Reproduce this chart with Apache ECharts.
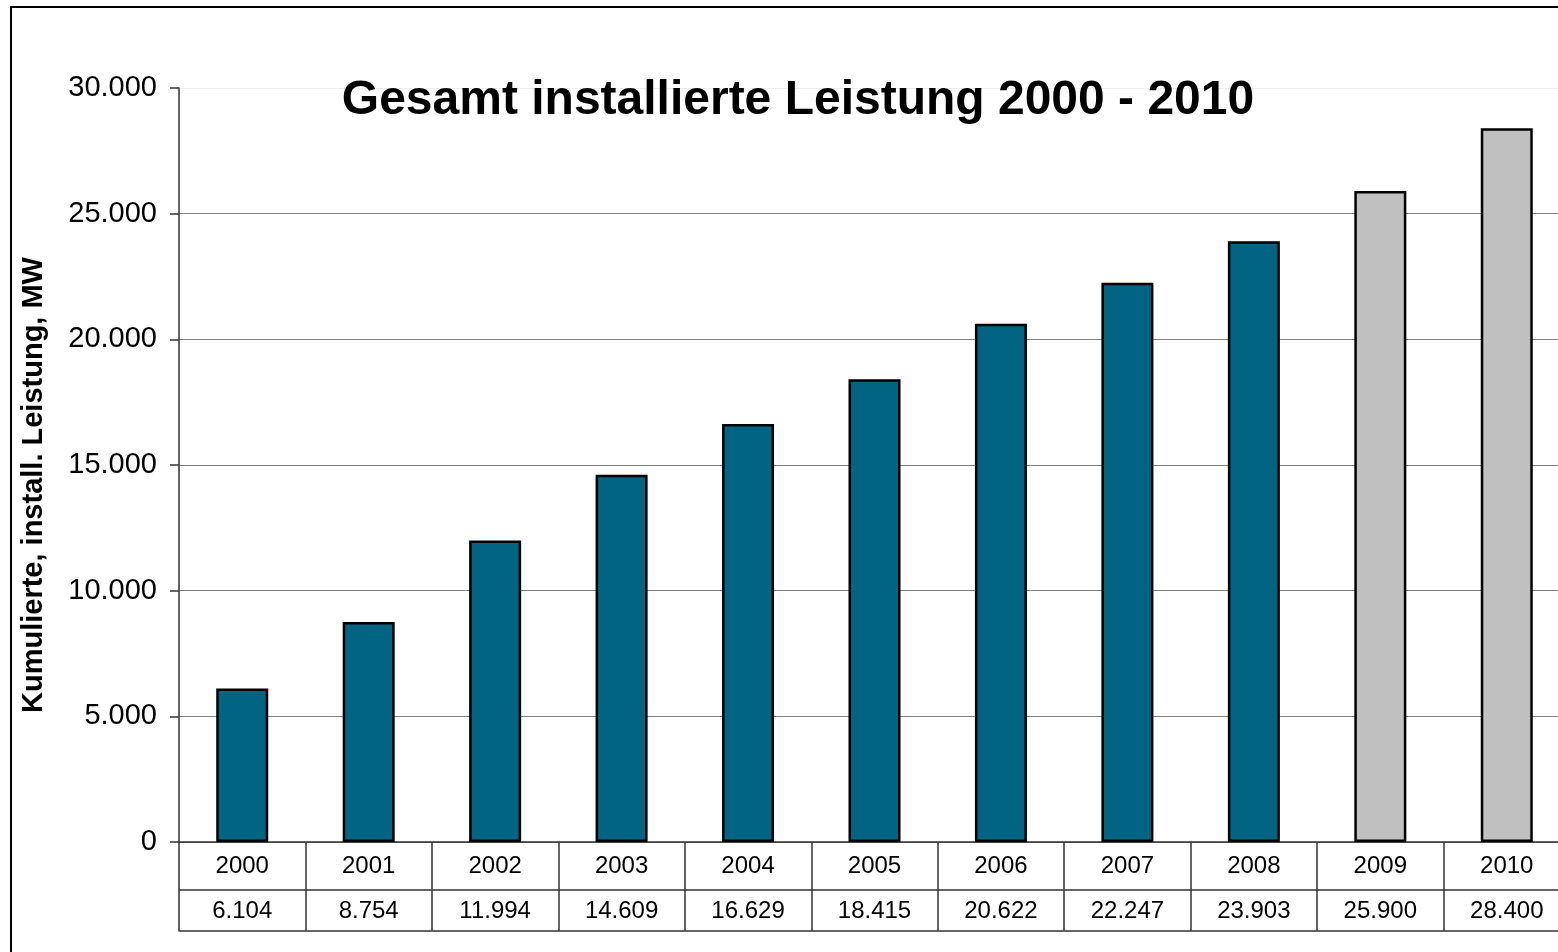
<!DOCTYPE html>
<html>
<head>
<meta charset="utf-8">
<title>Gesamt installierte Leistung 2000 - 2010</title>
<script src="https://cdn.jsdelivr.net/npm/echarts@6/dist/echarts.min.js"></script>
<style>
  html, body { margin: 0; padding: 0; background: #fff; }
  #chart { width: 1558px; height: 952px; }
</style>
</head>
<body>
<div id="chart"></div>
<script>
// Daten
const years = ['2000', '2001', '2002', '2003', '2004', '2005', '2006', '2007', '2008', '2009', '2010'];
const installedMW = [6104, 8754, 11994, 14609, 16629, 18415, 20622, 22247, 23903, 25900, 28400];
const isForecast = [false, false, false, false, false, false, false, false, false, true, true];
const yTicks = [0, 5000, 10000, 15000, 20000, 25000, 30000];

const fontFamily = 'Liberation Sans, Arial, sans-serif';

// 6104 -> "6.104"
function fmtDE(v) {
    return String(v).replace(/\B(?=(\d{3})+(?!\d))/g, '.');
}

const chart = echarts.init(document.getElementById('chart'));

chart.setOption({
    animation: false,
    textStyle: { fontFamily: fontFamily, color: '#000' },
    // Plotbereich ragt rechts etwas über den Rand hinaus
    grid: { left: 179, top: 88, height: 754, width: 1391, outerBoundsMode: 'none', containLabel: false },
    graphic: [
        {
            type: 'rect',
            shape: { x: 11, y: 7, width: 1700, height: 1100 },
            style: { fill: 'none', stroke: '#000', lineWidth: 2 },
            silent: true
        },
        {
            type: 'text',
            x: 798,
            y: 101,
            z: 100,
            style: {
                text: 'Gesamt installierte Leistung 2000 - 2010',
                font: 'bold 48px ' + fontFamily,
                fill: '#000',
                align: 'center',
                verticalAlign: 'middle'
            }
        },
        {
            type: 'text',
            x: 34,
            y: 485,
            rotation: Math.PI / 2,
            style: {
                text: 'Kumulierte, install. Leistung, MW',
                font: 'bold 29px ' + fontFamily,
                fill: '#000',
                align: 'center',
                verticalAlign: 'middle'
            }
        }
    ],
    xAxis: [
        {
            type: 'category',
            data: years,
            position: 'bottom',
            axisLine: { lineStyle: { color: '#333', width: 1.5 } },
            axisTick: { show: true, length: 89, inside: false, lineStyle: { color: '#333', width: 1.5 } },
            axisLabel: { fontSize: 24, color: '#000', verticalAlign: 'middle', margin: 24, interval: 0 },
            splitLine: { show: false }
        },
        {
            type: 'category',
            data: years,
            position: 'bottom',
            offset: 48,
            axisLine: { lineStyle: { color: '#333', width: 1.5 } },
            axisTick: { show: false },
            axisLabel: {
                fontSize: 24, color: '#000', verticalAlign: 'middle', margin: 21, interval: 0,
                formatter: (v, i) => fmtDE(installedMW[i])
            }
        },
        {
            type: 'category',
            data: years,
            position: 'bottom',
            offset: 89,
            axisLine: { lineStyle: { color: '#333', width: 1.5 } },
            axisTick: { show: false },
            axisLabel: { show: false }
        }
    ],
    yAxis: {
        type: 'value',
        min: yTicks[0],
        max: yTicks[yTicks.length - 1],
        interval: 5000,
        axisLine: { show: true, lineStyle: { color: '#333', width: 1.5 } },
        axisTick: { show: true, length: 9, lineStyle: { color: '#333', width: 1.5 } },
        axisLabel: { fontSize: 29, color: '#000', margin: 22, formatter: v => fmtDE(v) },
        splitLine: {
            show: true,
            lineStyle: {
                color: ['#808080', '#808080', '#808080', '#808080', '#808080', '#808080', '#eeeeee'],
                width: 1
            }
        }
    },
    series: [
        {
            type: 'bar',
            xAxisIndex: 0,
            barWidth: 52,
            data: installedMW.map((v, i) => ({
                value: v,
                itemStyle: { color: isForecast[i] ? '#c0c0c0' : '#006482' }
            })),
            itemStyle: { borderColor: '#000', borderWidth: 2.5 }
        }
    ]
});
</script>
</body>
</html>
